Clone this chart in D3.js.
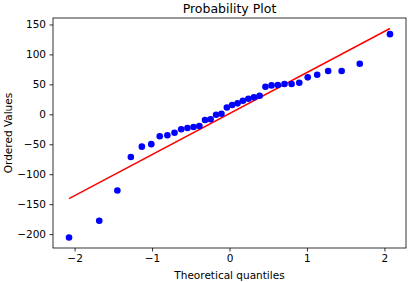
<!DOCTYPE html>
<html><head><meta charset="utf-8">
<script src="https://cdn.jsdelivr.net/npm/d3@7"></script>
<style>body{margin:0;background:#fff}svg{display:block}text{font-family:"DejaVu Sans",sans-serif;fill:#000}</style>
</head><body><svg id="c" width="410" height="282"></svg>
<script>
const theoreticalQuantiles = [-2.072,-1.682,-1.448,-1.274,-1.132,-1.010,-0.901,-0.802,-0.710,-0.624,-0.543,-0.464,-0.389,-0.316,-0.244,-0.173,-0.104,-0.034,0.034,0.104,0.173,0.244,0.316,0.389,0.464,0.543,0.624,0.710,0.802,0.901,1.010,1.132,1.274,1.448,1.682,2.072];
const orderedValues = [-205.7,-177.8,-127.3,-71.2,-54,-49.8,-36.7,-35,-30.7,-25,-22.8,-21.2,-19.5,-9.5,-8.3,-0.7,1,11.3,15.5,18.3,22.7,26,28.3,31,46,48.3,48.8,50.5,50.5,52.7,61.7,66,72.2,72.2,84.3,133.8];
const fitLineX = [-2.072, 2.072];
const fitLineY = [-140.8, 143.3];
const xTicks = [-2,-1,0,1,2];
const yTicks = [-200,-150,-100,-50,0,50,100,150];
const title = "Probability Plot", xLabel = "Theoretical quantiles", yLabel = "Ordered Values";

const L=53, R=406, T=18, B=248;
const svg = d3.select("#c");
const x = d3.scaleLinear().domain([-2.279,2.279]).range([L,R]);
const y = d3.scaleLinear().domain([-223.2,160.8]).range([B,T]);
const fmt = d => d<0 ? "\u2212"+Math.abs(d) : String(d);

svg.append("path").attr("fill","none").attr("stroke","#ff0000").attr("stroke-width",1.5)
  .attr("d", d3.line()(fitLineX.map((v,i)=>[x(v), y(fitLineY[i])])));
svg.append("g").selectAll("circle").data(theoreticalQuantiles).join("circle")
  .attr("cx",d=>x(d)).attr("cy",(d,i)=>y(orderedValues[i])).attr("r",3.3).attr("fill","#0000ff");

const xa = svg.append("g").attr("transform",`translate(0,${B})`)
  .call(d3.axisBottom(x).tickValues(xTicks).tickFormat(fmt).tickSize(3.5).tickPadding(3.5));
const ya = svg.append("g").attr("transform",`translate(${L},0)`)
  .call(d3.axisLeft(y).tickValues(yTicks).tickFormat(fmt).tickSize(3.5).tickPadding(3.5));
[xa,ya].forEach(a=>{a.select(".domain").remove();a.selectAll("line").attr("stroke","#000").attr("stroke-width",0.8);
  a.selectAll("text").attr("font-size",10.5).attr("font-family","DejaVu Sans").attr("fill","#000");});
svg.append("rect").attr("x",L).attr("y",T).attr("width",R-L).attr("height",B-T)
  .attr("fill","none").attr("stroke","#000").attr("stroke-width",0.8);

svg.append("text").attr("x",(L+R)/2).attr("y",13).attr("text-anchor","middle").attr("font-size",12.5).text(title);
svg.append("text").attr("x",(L+R)/2).attr("y",279).attr("text-anchor","middle").attr("font-size",10.5).text(xLabel);
svg.append("text").attr("transform",`translate(12,${(T+B)/2}) rotate(-90)`).attr("text-anchor","middle").attr("font-size",10.5).text(yLabel);
</script></body></html>
